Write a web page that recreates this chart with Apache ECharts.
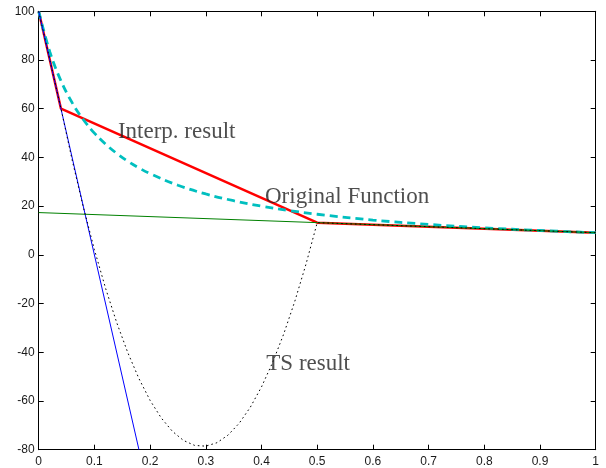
<!DOCTYPE html>
<html>
<head>
<meta charset="utf-8">
<script src="https://cdn.jsdelivr.net/npm/echarts@6/dist/echarts.min.js"></script>
<style>
html,body{margin:0;padding:0;background:#fff;}
#chart{width:606px;height:468px;}
</style>
</head>
<body>
<div id="chart"></div>
<script>
// x tick labels / y tick labels
const xTicks = [0,0.1,0.2,0.3,0.4,0.5,0.6,0.7,0.8,0.9,1];
const yTicks = [-80,-60,-40,-20,0,20,40,60,80,100];

// Original function (cyan dashed)
const origX = [0,0.02,0.04,0.06,0.08,0.10,0.12,0.14,0.16,0.18,0.20,0.25,0.30,0.35,0.40,0.45,0.50,0.60,0.70,0.80,0.90,1.00];
const origY = [100,83.33,71.43,62.5,55.56,50,45.45,41.67,38.46,35.71,33.33,28.57,25,22.22,20,18.18,16.67,14.29,12.5,11.11,10,9.09];

// Interp. result (red)
const interpX = [0,0.04,0.5,1];
const interpY = [100,60,13.22,9.09];

// tangent at left (blue)
const leftX = [0,0.18];
const leftY = [100,-80];

// tangent at right (green)
const rightX = [0,1];
const rightY = [17.36,9.09];

// TS result (black dotted)
const tsX = [0,0.02,0.04,0.06,0.08,0.10,0.12,0.14,0.16,0.18,0.20,0.22,0.24,0.26,0.28,0.30,0.32,0.34,0.36,0.38,0.40,0.42,0.44,0.46,0.48,0.50,1.00];
const tsY = [100,80,60,38.99,19.71,2.16,-13.68,-27.78,-40.17,-50.82,-59.76,-66.96,-72.45,-76.21,-78.24,-78.55,-77.13,-73.99,-69.13,-62.54,-54.22,-44.18,-32.42,-18.93,-3.72,13.22,9.09];

// Text annotations
const noteText = ['Interp. result','Original Function','TS result'];
const noteX = [0.1422,0.4063,0.4086];
const noteY = [50.3,23.65,-44.8];

const zip = (a,b) => a.map((v,i)=>[v,b[i]]);

const chart = echarts.init(document.getElementById('chart'), null, {renderer:'canvas'});
const axisCommon = {
  type:'value',
  axisLine:{show:true,onZero:false,lineStyle:{color:'#000',width:1}},
  axisTick:{show:true,inside:true,length:5,lineStyle:{color:'#000',width:1}},
  splitLine:{show:false}
};
const option = {
  animation:false,
  backgroundColor:'#fff',
  grid:{left:38.7,right:10.3,top:11.3,bottom:18.3,containLabel:false},
  xAxis:[
    Object.assign({},axisCommon,{position:'bottom',min:0,max:1,interval:0.1,
      axisLabel:{show:true,margin:6,color:'#1a1a1a',fontFamily:'Liberation Sans',fontSize:12,
        formatter:v=>{const t=xTicks.find(q=>Math.abs(q-v)<1e-9);return t===undefined?'':String(t);}}}),
    Object.assign({},axisCommon,{position:'top',min:0,max:1,interval:0.1,axisLabel:{show:false}})
  ],
  yAxis:[
    Object.assign({},axisCommon,{position:'left',min:-80,max:100,interval:20,
      axisLabel:{show:true,margin:4,color:'#1a1a1a',fontFamily:'Liberation Sans',fontSize:12,
        formatter:v=>{const t=yTicks.find(q=>Math.abs(q-v)<1e-9);return t===undefined?'':String(t);}}}),
    Object.assign({},axisCommon,{position:'right',min:-80,max:100,interval:20,axisLabel:{show:false}})
  ],
  series:[
    {type:'line',data:zip(interpX,interpY),symbol:'none',lineStyle:{color:'#ff0000',width:2.5},z:2},
    {type:'line',data:zip(origX,origY),symbol:'none',smooth:0.4,lineStyle:{color:'#00bfbf',width:2.8,type:[8,5]},z:3},
    {type:'line',data:zip(leftX,leftY),symbol:'none',lineStyle:{color:'#0000ff',width:1},z:4},
    {type:'line',data:zip(rightX,rightY),symbol:'none',lineStyle:{color:'#008000',width:1},z:4},
    {type:'line',data:zip(tsX,tsY),symbol:'none',lineStyle:{color:'#000',width:1,type:[1.6,3]},z:5},
    {type:'scatter',data:zip(noteX,noteY).map((p,i)=>({value:p,name:noteText[i]})),symbolSize:0,z:6,
      silent:true,
      label:{show:true,position:'right',distance:0,formatter:p=>p.name,
        fontFamily:'Liberation Serif',fontSize:23,color:'#222'}}
  ]
};
chart.setOption(option);
</script>
</body>
</html>
